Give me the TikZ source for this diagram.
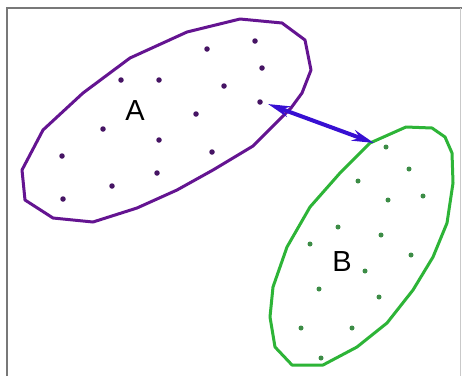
\documentclass[tikz,border=0pt]{standalone}
\usepackage{fontspec}
\setmainfont{Liberation Sans}
\usetikzlibrary{arrows.meta}
\definecolor{purp}{RGB}{100,20,145}
\definecolor{purpdot}{RGB}{70,20,100}
\definecolor{grn}{RGB}{45,180,55}
\definecolor{grndot}{RGB}{60,140,70}
\definecolor{arr}{RGB}{55,15,210}
\definecolor{frame}{RGB}{120,120,120}
\tikzset{
  blob/.style={line width=3pt, line join=round},
  pdot/.style={circle, fill=purpdot, inner sep=0pt, minimum size=5.5pt},
  gdot/.style={circle, fill=grndot, inner sep=0pt, minimum size=5pt},
  lbl/.style={font=\fontsize{29}{29}\selectfont, inner sep=0pt},
}
\begin{document}
\begin{tikzpicture}[x=1pt,y=-1pt]
\useasboundingbox (0,0) rectangle (462,376);
\fill[white] (0,0) rectangle (462,376);
\draw[frame, line width=1.8pt] (7,376) -- (7,8) -- (462,8);
\draw[frame!40, line width=0.8pt] (460,8) -- (460,376);
% set A
\draw[purp, blob] (240,19) -- (282,23) -- (305,40) -- (311,70) -- (302,93) -- (291,108)
  -- (253,146) -- (213,170) -- (177,190) -- (137,208) -- (93,222) -- (53,218)
  -- (25,200) -- (22,170) -- (43,130) -- (83,93) -- (130,58) -- (187,32) -- cycle;
\foreach \x/\y [count=\i] in {255/41,207/49,262/68,121/80,159/80,224/86,260/102,196/114,103/129,159/140,212/152,62/156,157/173,112/186,63/199}
  \node[pdot] (a\i) at (\x,\y) {};
\node[lbl] (A) at (135,111) {A};
% set B
\draw[grn, blob] (406,127) -- (432,128) -- (445,137) -- (452,153) -- (453,183) -- (447,223)
  -- (433,257) -- (413,290) -- (387,323) -- (357,347) -- (323,365) -- (292,365)
  -- (275,347) -- (270,317) -- (273,287) -- (287,247) -- (310,207) -- (340,173)
  -- (370,143) -- cycle;
\foreach \x/\y [count=\i] in {386/147,409/169,358/181,388/200,423/196,338/227,381/235,310/244,411/255,365/271,319/289,379/297,301/328,352/328,321/358}
  \node[gdot] (b\i) at (\x,\y) {};
\node[lbl] (B) at (342,262) {B};
% arrow
\coordinate (s) at (268,104);
\coordinate (t) at (374,143);
\draw[arr, line width=4pt, {Stealth[length=22pt,width=11pt]}-{Stealth[length=22pt,width=11pt]}] (s) -- (t);
\end{tikzpicture}
\end{document}
